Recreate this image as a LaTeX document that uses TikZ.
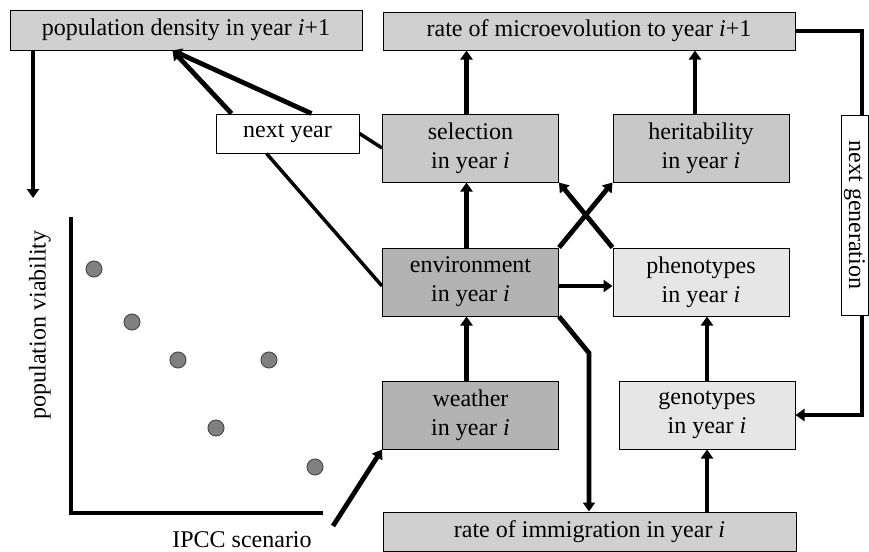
\documentclass[tikz,border=0pt]{standalone}
\usepackage{fontspec}
\setmainfont{Liberation Serif}
\usetikzlibrary{arrows.meta}

\definecolor{boxgrey}{RGB}{208,208,208}
\definecolor{midgrey}{RGB}{200,200,200}
\definecolor{darkgrey}{RGB}{179,179,179}
\definecolor{lightgrey}{RGB}{230,230,230}
\definecolor{dotgrey}{RGB}{128,128,128}

\tikzset{every picture/.style={line width=0.75pt}}
\tikzset{
  box/.style={draw, line width=0.75pt, align=center, inner sep=0pt,
    font=\fontsize{18}{21.6}\selectfont},
  widebox/.style={box, minimum width=#1, minimum height=29.25pt},
  midbox/.style={box, minimum width=132pt, minimum height=51pt},
  arr/.style={line width=3.6pt, -{Triangle[length=6.75pt,width=9pt]}},
  link/.style={line width=2.6pt},
  axis/.style={line width=3.6pt},
  dot/.style={draw=black!70, fill=dotgrey, line width=0.75pt}
}

\begin{document}
\begin{tikzpicture}[x=0.75pt,y=0.75pt,yscale=-1,xscale=1]
\useasboundingbox (0,0) rectangle (869,551);

% boxes
\node[widebox=264pt, fill=boxgrey, minimum height=30pt] (popdens) at (186,30) {population density in year \textit{i}+1};
\node[widebox=309pt, fill=boxgrey, minimum height=28.5pt] (microevo) at (589,31) {rate of microevolution to year \textit{i}+1};
\node[widebox=107.25pt, fill=white] (nextyear) at (287.5,133.5) {next year};
\node[midbox, fill=midgrey] (selection) at (470.5,148) {selection\\in year \textit{i}};
\node[midbox, fill=midgrey] (heritability) at (701,148) {heritability\\in year \textit{i}};
\node[midbox, fill=darkgrey] (environment) at (470.5,282) {environment\\in year \textit{i}};
\node[midbox, fill=lightgrey] (phenotypes) at (701,282) {phenotypes\\in year \textit{i}};
\node[midbox, fill=darkgrey] (weather) at (470.5,415) {weather\\in year \textit{i}};
\node[midbox, fill=lightgrey] (genotypes) at (707,415) {genotypes\\in year \textit{i}};
\node[widebox=309.75pt, fill=boxgrey] (immigration) at (589.5,531.5) {rate of immigration in year \textit{i}};
\node[box, fill=white, rotate=-90, minimum width=150pt, minimum height=20.25pt] (nextgen) at (854.5,215) {next generation};

% free ends
\coordinate (viab) at (33,198);
\coordinate (bend) at (589,353);
\coordinate (ipcc) at (333,526);
\coordinate (ngx) at (862,0);

% connectors
\draw[arr] (popdens.south -| viab) -- (viab);
\draw[arr] ([xshift=12pt]nextyear.north west) -- ([xshift=122.25pt]popdens.south west);
\draw[arr] ([xshift=72pt]nextyear.north west) -- ([xshift=122.25pt]popdens.south west);
\draw[link] (selection.west) -- (nextyear.east);
\draw[link] ([yshift=3pt]environment.west) -- ([xshift=38.25pt]nextyear.south west);
\draw[arr] ([xshift=-3pt]selection.north) -- ([xshift=-3pt]selection.north |- microevo.south);
\draw[arr] ([xshift=-4.5pt]heritability.north) -- ([xshift=-4.5pt]heritability.north |- microevo.south);
\draw[arr] ([xshift=-3pt]environment.north) -- ([xshift=-3pt]selection.south);
\draw[arr] (environment.north east) -- (heritability.south west);
\draw[arr] (phenotypes.north west) -- (selection.south east);
\draw[arr] ([yshift=3pt]environment.east) -- ([yshift=3pt]phenotypes.west);
\draw[arr] (environment.south east) -- (bend) -- (bend |- immigration.north);
\draw[arr] ([xshift=-3pt]weather.north) -- ([xshift=-3pt]environment.south);
\draw[arr] (genotypes.north) -- (genotypes.north |- phenotypes.south);
\draw[arr] (genotypes.south |- immigration.north) -- (genotypes.south);
\draw[arr] (ipcc) -- (weather.south west);
\draw[axis] (microevo.east) -- (microevo.east -| ngx) -- (ngx |- nextgen.west);
\draw[arr] (ngx |- nextgen.east) -- (ngx |- genotypes.east) -- (genotypes.east);

% plot
\draw[axis] (71,217) -- (71,513) -- (323,513);
\foreach \px/\py in {94/269, 132/322, 178/360, 269/360, 216/428, 315/467}
  \draw[dot] (\px,\py) circle (8);
\node[rotate=90, font=\fontsize{18}{21.6}\selectfont] (ylabel) at (40,325) {population viability};
\node[font=\fontsize{18}{21.6}\selectfont] (xlabel) at (242,540) {IPCC scenario};

\end{tikzpicture}
\end{document}
